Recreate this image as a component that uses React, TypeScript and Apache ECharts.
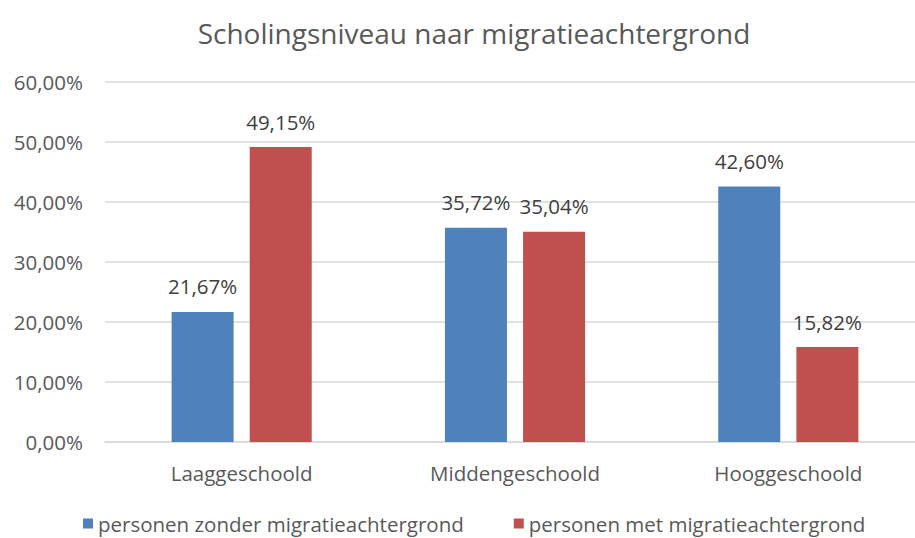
import React, { useEffect, useRef } from "react";
import * as echarts from "echarts";

const categories = ["Laaggeschoold", "Middengeschoold", "Hooggeschoold"];
const seriesNames = ["personen zonder migratieachtergrond", "personen met migratieachtergrond"];
const zonderValues = [21.67, 35.72, 42.6];
const metValues = [49.15, 35.04, 15.82];
const yTicks = [0, 10, 20, 30, 40, 50, 60];
const titleText = "Scholingsniveau naar migratieachtergrond";

const FONT = "'Open Sans', 'Noto Sans', sans-serif";
const fmt = (v: number) => v.toFixed(2).replace(".", ",") + "%";

export default function App() {
  const ref = useRef<HTMLDivElement>(null);
  useEffect(() => {
    if (!ref.current) return;
    const chart = echarts.init(ref.current, null, { renderer: "svg" });
    const labelCfg = {
      show: true,
      position: "top",
      distance: 15,
      fontFamily: FONT,
      fontSize: 20.5,
      color: "#404040",
      formatter: (p: any) => fmt(p.value),
    };
    chart.setOption({
      animation: false,
      backgroundColor: "#ffffff",
      textStyle: { fontFamily: FONT },
      graphic: [
        {
          type: "text",
          x: 474,
          y: 33,
          style: {
            text: titleText,
            fontFamily: FONT,
            fontSize: 28,
            fill: "#595959",
            textAlign: "center",
            textVerticalAlign: "middle",
          },
        },
      ],
      legend: {
        top: 508,
        left: 78,
        itemWidth: 10,
        itemHeight: 10,
        itemGap: 50,
        icon: "rect",
        textStyle: { fontFamily: FONT, fontSize: 20.5, color: "#595959" },
        data: seriesNames,
      },
      grid: { left: 105, top: 82, right: 0, height: 360, containLabel: false },
      xAxis: {
        type: "category",
        data: categories,
        axisLine: { lineStyle: { color: "#d9d9d9", width: 1.5 } },
        axisTick: { show: false },
        axisLabel: { fontFamily: FONT, fontSize: 20.5, color: "#595959", margin: 20 },
      },
      yAxis: {
        type: "value",
        min: yTicks[0],
        max: yTicks[yTicks.length - 1],
        interval: 10,
        axisLine: { show: false },
        axisTick: { show: false },
        splitLine: { lineStyle: { color: "#d9d9d9", width: 1.5 } },
        axisLabel: { fontFamily: FONT, fontSize: 20.5, color: "#595959", margin: 22, formatter: (v: number) => fmt(v) },
      },
      series: [
        {
          name: seriesNames[0],
          type: "bar",
          data: zonderValues,
          barWidth: 62,
          barGap: "26%",
          itemStyle: { color: "#4F81BD" },
          label: labelCfg,
        },
        {
          name: seriesNames[1],
          type: "bar",
          data: metValues,
          barWidth: 62,
          barGap: "26%",
          itemStyle: { color: "#C0504D" },
          label: labelCfg,
        },
      ],
    });
    return () => chart.dispose();
  }, []);
  return <div ref={ref} style={{ position: "fixed", left: 0, top: 0, width: 925, height: 538 }} />;
}
